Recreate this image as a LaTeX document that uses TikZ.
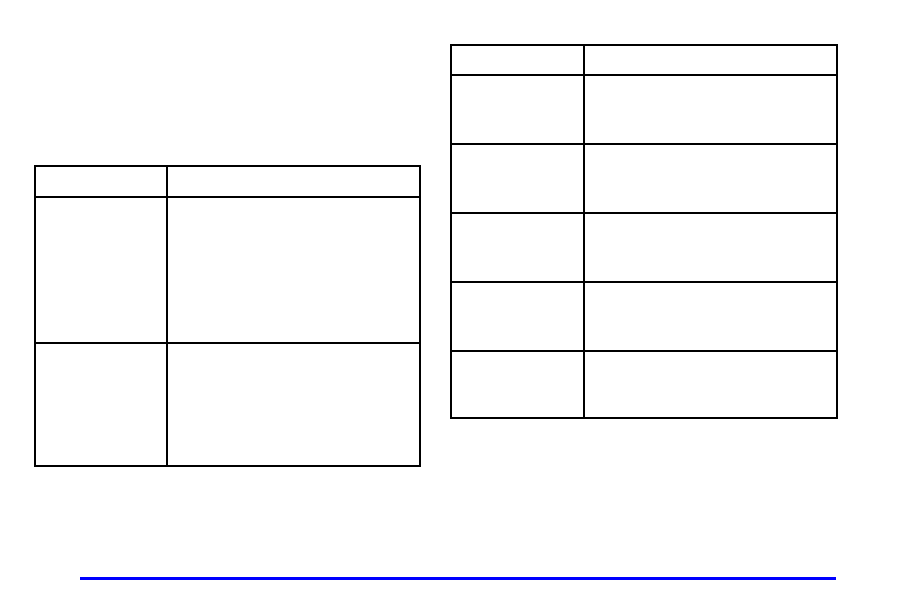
\documentclass[tikz,border=0pt]{standalone}
\usetikzlibrary{positioning}

\begin{document}
\begin{tikzpicture}[
    x=1bp, y=-1bp,
    % table frame styles
    tableframe/.style={draw=black, line width=2bp},
    headrule/.style={draw=black, line width=2.6bp},
    pagerule/.style={draw=blue, line width=3bp}
]
\useasboundingbox (0,0) rectangle (918,612);

% Left table
\draw[tableframe] (35,166) rectangle (420,466);
\draw[tableframe] (167,166) -- (167,466);
\draw[headrule] (35,197) -- (420,197);
\draw[tableframe] (35,343) -- (420,343);

% Right table
\draw[tableframe] (451,45) rectangle (837,418);
\draw[tableframe] (584,45) -- (584,418);
\draw[headrule] (451,75) -- (837,75);
\foreach \y in {144,213,282,351}
    \draw[tableframe] (451,\y) -- (837,\y);

% Bottom rule
\draw[pagerule] (80,578) -- (836,578);

\end{tikzpicture}
\end{document}
